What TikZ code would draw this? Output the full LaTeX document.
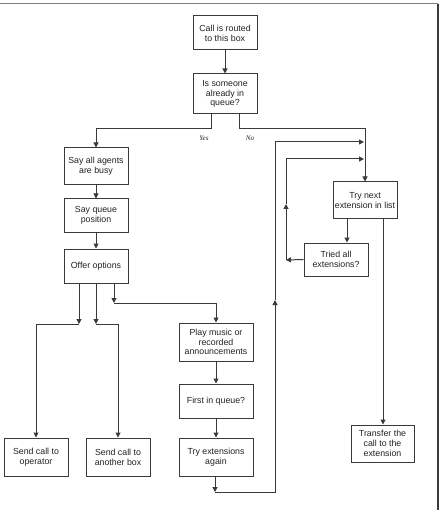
\documentclass[tikz,border=0pt]{standalone}
\usepackage{fontspec}
\setmainfont{Liberation Sans}
\newfontfamily\labelserif{Liberation Serif}
\usetikzlibrary{arrows.meta}
\definecolor{ink}{HTML}{222222}
\definecolor{edge}{HTML}{3a3a3a}
\definecolor{soft}{HTML}{808080}
\begin{document}
\begin{tikzpicture}[x=1pt,y=-1pt,
  box/.style={draw=edge,line width=1pt,fill=white,text=ink,inner sep=0pt,
    minimum width=64pt,align=center,font=\fontsize{8.8}{9.8}\selectfont},
  arr/.style={draw=edge,line width=1pt,-{Triangle[length=5pt,width=5pt]}},
  yn/.style={font=\labelserif\itshape\fontsize{7}{8}\selectfont,text=ink,inner sep=0pt}]
\useasboundingbox[fill=white] (0,0) rectangle (440,510);
% frame edges
\draw[soft,line width=1pt] (0,4) -- (438,4);
\draw[edge,line width=1.2pt] (438,4) -- (438,510);

% boxes
\node[box,minimum height=34pt] (call) at (225,33) {Call is routed\\to this box};
\node[box,minimum height=40pt] (q) at (225,94) {Is someone\\already in\\queue?};
\node[box,minimum height=37pt] (busy) at (96,166.5) {Say all agents\\are busy};
\node[box,minimum height=33pt] (qpos) at (96,215.5) {Say queue\\position};
\node[box,minimum height=34pt] (offer) at (96,266) {Offer options};
\node[box,minimum height=38pt] (oper) at (36,457) {Send call to\\operator};
\node[box,minimum height=38pt] (another) at (118,457) {Send call to\\another box};
\node[box,minimum width=74pt,minimum height=38pt] (music) at (216,342) {Play music or\\recorded\\announcements};
\node[box,minimum width=74pt,minimum height=34pt] (first) at (216,401) {First in queue?};
\node[box,minimum width=74pt,minimum height=38pt] (again) at (216,457) {Try extensions\\again};
\node[box,minimum height=37pt] (next) at (365,200.5) {Try next\\extension in list};
\node[box,minimum height=33pt] (tried) at (336,259.5) {Tried all\\extensions?};
\node[box,minimum width=63pt,minimum height=37pt] (transfer) at (382.5,443.5) {Transfer the\\call to the\\extension};

% branch labels
\node[yn] (yes) at (204,138.5) {Yes};
\node[yn] (no) at (250,138.5) {No};

% bend points
\coordinate (b1) at (79,324);
\coordinate (b2) at (96,324);
\coordinate (b3) at (114,303);
\coordinate (b4) at (215,492);
\coordinate (c1) at (275,300);
\coordinate (j1) at (364,142);
\coordinate (c2) at (286,260);
\coordinate (c3) at (286,204);
\coordinate (j2) at (364,159);

% connectors
\draw[arr] (call) -- (q);
\draw[arr] ([xshift=-14pt]q.south) -- ++(0,14) -| (busy.north);
\draw[arr] ([xshift=14pt]q.south) -- ++(0,14) -| (next.north);
\draw[arr] (busy) -- (qpos);
\draw[arr] (qpos) -- (offer);
\draw[arr] ([xshift=-17pt]offer.south) -- (b1);
\draw[arr] (b1) -| (oper.north);
\draw[arr] (offer.south) -- (b2);
\draw[arr] (b2) -| (another.north);
\draw[arr] ([xshift=18pt]offer.south) -- (b3);
\draw[arr] (b3) -| (music.north);
\draw[arr] (music) -- (first);
\draw[arr] (first) -- (again);
\draw[arr] (again.south -| b4) -- (b4);
\draw[arr] (b4) -| (c1);
\draw[arr] (c1) |- (j1);
\draw[arr] (tried.west) -- (c2);
\draw[arr] (c2) -- (c3);
\draw[arr] (c3) |- (j2);
\draw[arr] ([xshift=-18pt]next.south) -- ([xshift=-18pt]next.south |- tried.north);
\draw[arr] ([xshift=18pt]next.south) -- ([xshift=18pt]next.south |- transfer.north);
\end{tikzpicture}
\end{document}
